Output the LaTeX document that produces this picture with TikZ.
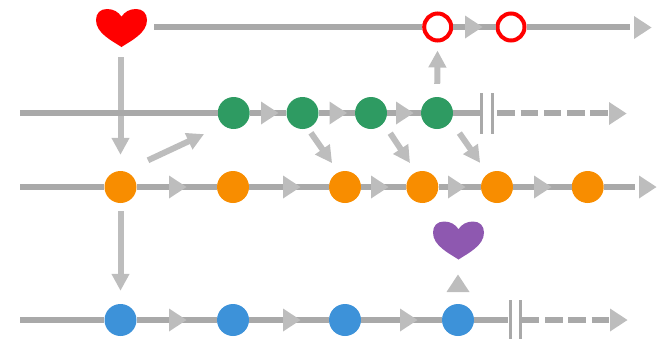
\documentclass[tikz,border=0pt]{standalone}
\usepackage{xcolor}
\usetikzlibrary{arrows.meta,shapes.geometric}
\definecolor{rowline}{HTML}{A9A9A9}
\definecolor{linkline}{HTML}{BDBDBD}
\definecolor{masterc}{HTML}{FF0000}
\definecolor{developc}{HTML}{2E9B62}
\definecolor{featurec}{HTML}{F88D00}
\definecolor{hotfixc}{HTML}{3D92D9}
\definecolor{mergedc}{HTML}{8E58B0}

\tikzset{
	commit/.style={circle,inner sep=0pt,minimum size=32pt,fill=#1},
	hollow/.style={circle,inner sep=0pt,minimum size=27pt,fill=white,draw=masterc,line width=4pt},
	heartbox/.style={rectangle,inner sep=0pt,minimum width=51pt,minimum height=38pt},
	barmark/.style={rectangle,inner sep=0pt,minimum width=3pt,minimum height=41pt,fill=rowline},
	flowtip/.style={isosceles triangle,isosceles triangle stretches,inner sep=0pt,outer sep=0pt,minimum width=23pt,minimum height=17.5pt,fill=linkline,anchor=lower side},
	row/.style={color=rowline,line width=6pt},
	stub/.style={color=rowline,line width=6pt,dash pattern=on 17.6pt off 5.7pt},
	link/.style={color=linkline,line width=6pt,-{Triangle[length=17pt,width=17pt]}},
	heart/.pic={
		\fill[pic actions] (0,19) .. controls (-10,12.5) and (-25.5,5) .. (-25.5,-8) .. controls (-25.5,-15) and (-21,-19) .. (-14.5,-19) .. controls (-8,-19) and (-3,-16) .. (0,-11.3) .. controls (3,-16) and (8,-19) .. (14.5,-19) .. controls (21,-19) and (25.5,-15) .. (25.5,-8) .. controls (25.5,5) and (10,12.5) .. (0,19) -- cycle;
	}
}

\begin{document}
\begin{tikzpicture}[x=1pt,y=-1pt]
	\useasboundingbox (0,0) rectangle (664,338);

	\coordinate (s1) at (154,27);
	\coordinate (e1) at (630,27);
	\coordinate (s2) at (20,113);
	\coordinate (d2) at (608,113);
	\coordinate (s3) at (20,187);
	\coordinate (e3) at (635,187);
	\coordinate (s4) at (20,320);
	\coordinate (d4) at (610,320);

	\node (h1) at (121.5,28) [heartbox] {};
	\node (h2) at (458.5,240.5) [heartbox] {};
	\pic[fill=masterc] at (h1) {heart};
	\pic[fill=mergedc] at (h2) {heart};

	\node (r1) at (437.7,27) [hollow] {};
	\node (r2) at (511,27) [hollow] {};

	\node (g1) at (233.7,113) [commit=developc] {};
	\node (g2) at (302.5,113) [commit=developc] {};
	\node (g3) at (371,113) [commit=developc] {};
	\node (g4) at (437,113) [commit=developc] {};

	\node (o1) at (120.5,187) [commit=featurec] {};
	\node (o2) at (233,187) [commit=featurec] {};
	\node (o3) at (345,187) [commit=featurec] {};
	\node (o4) at (422.3,187) [commit=featurec] {};
	\node (o5) at (497,187) [commit=featurec] {};
	\node (o6) at (587.7,187) [commit=featurec] {};

	\node (b1) at (120.5,320) [commit=hotfixc] {};
	\node (b2) at (233,320) [commit=hotfixc] {};
	\node (b3) at (345,320) [commit=hotfixc] {};
	\node (b4) at (458,320) [commit=hotfixc] {};

	\node (k1) at (481.7,113) [barmark] {};
	\node (k2) at (492,113) [barmark] {};
	\node (k3) at (510,320) [barmark] {};
	\node (k4) at (520,320) [barmark] {};

	\draw[link,shorten <=10pt,shorten >=16pt] (o1 |- h1.south) to[] (o1);
	\draw[row] (s1) to (r1) to (r2) to (e1);
	\draw[row] (s2) to (g1) to (g2) to (g3) to (g4) to (k1);
	\draw[row] (s3) to (o1) to (o2) to (o3) to (o4) to (o5) to (o6) to (e3);
	\draw[row] (s4) to (b1) to (b2) to (b3) to (b4) to (k3);
	\draw[stub,shorten <=3.5pt] (k2) to (d2);
	\draw[stub] (k4) to (d4);

	\draw[link,shorten <=13pt,shorten >=8pt] (g4) to (r1);
	\draw[link,shorten <=8pt,shorten >=13pt] (o1) to (b1);
	\draw[link,shorten <=26pt,shorten >=21pt] (o1.76) to (g1.229);
	\draw[link,shorten <=5.5pt,shorten >=11pt] (g2.-71) to (o3.114);
	\draw[link,shorten <=12pt,shorten >=10.8pt] (g3.-39) to (o4.113);
	\draw[link,shorten <=14.6pt,shorten >=13.2pt] (g4.-30) to (o5.125.5);

	\node (t1) at (465,27) [flowtip] {};
	\node (t2) at (634,27.5) [flowtip] {};
	\node (t3) at (261,113) [flowtip] {};
	\node (t4) at (329.5,113) [flowtip] {};
	\node (t5) at (396,113) [flowtip] {};
	\node (t6) at (609,113.5) [flowtip] {};
	\node (t7) at (169,187) [flowtip] {};
	\node (t8) at (283,187) [flowtip] {};
	\node (t9) at (371,187) [flowtip] {};
	\node (t10) at (448,187) [flowtip] {};
	\node (t11) at (534,187) [flowtip] {};
	\node (t12) at (639,187) [flowtip] {};
	\node (t13) at (169,320) [flowtip] {};
	\node (t14) at (283,320) [flowtip] {};
	\node (t15) at (400,320) [flowtip] {};
	\node (t16) at (610,320) [flowtip] {};
	\node (t17) at (458,292) [flowtip,shape border rotate=90] {};
\end{tikzpicture}
\end{document}
